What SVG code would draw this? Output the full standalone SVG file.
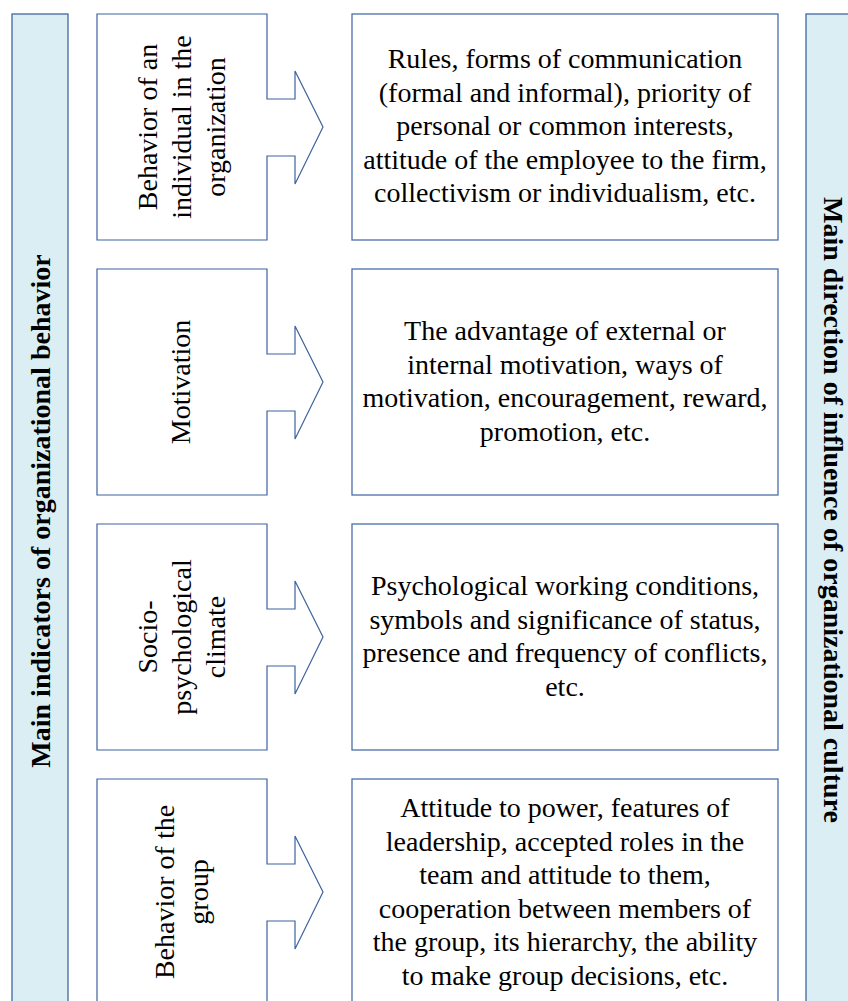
<svg xmlns="http://www.w3.org/2000/svg" width="848" height="1001" viewBox="0 0 848 1001">
<style>
.bar{fill:#DAEEF3;stroke:#41689E;stroke-width:1.3}
.box{fill:#FFFFFF;stroke:#4A6FA8;stroke-width:1.3}
.call{fill:#FFFFFF;stroke:#3E62A0;stroke-width:1.2;stroke-linejoin:miter}
.t{font-family:"Liberation Serif","Times New Roman",serif;font-size:28px;fill:#000;text-anchor:middle}
.b{font-family:"Liberation Serif","Times New Roman",serif;font-size:28px;font-weight:bold;fill:#000;text-anchor:middle}
</style>
<rect width="848" height="1001" fill="#FFFFFF"/>
<g id="left-bar">
<rect class="bar" x="12" y="14" width="56" height="1000"/>
<text class="b" transform="translate(40,511) rotate(-90)" x="0" y="10">Main indicators of organizational behavior</text>
</g>
<g id="right-bar">
<rect class="bar" x="806" y="14" width="56" height="1000"/>
<text class="b" transform="translate(834,510) rotate(90)" x="0" y="10">Main direction of influence of organizational culture</text>
</g>
<g id="connectors"></g>
<g id="ind1">
<path class="call" d="M97,14 H267 V99 H295 V71 L323,127 L295,184 V156 H267 V240 H97 Z"/>
<text class="t" transform="translate(182,127) rotate(-90)"><tspan x="0" y="-25">Behavior of an</tspan><tspan x="0" y="9">individual in the</tspan><tspan x="0" y="43">organization</tspan></text>
</g>
<g id="dir1">
<rect class="box" x="352" y="14" width="426" height="226"/>
<text class="t"><tspan x="565" y="68">Rules, forms of communication</tspan><tspan x="565" y="101.5">(formal and informal), priority of</tspan><tspan x="565" y="135">personal or common interests,</tspan><tspan x="565" y="168.5">attitude of the employee to the firm,</tspan><tspan x="565" y="202">collectivism or individualism, etc.</tspan></text>
</g>
<g id="ind2">
<path class="call" d="M97,269 H267 V354 H295 V326 L323,382 L295,439 V411 H267 V495 H97 Z"/>
<text class="t" transform="translate(182,382) rotate(-90)" x="0" y="8">Motivation</text>
</g>
<g id="dir2">
<rect class="box" x="352" y="269" width="426" height="226"/>
<text class="t"><tspan x="565" y="340">The advantage of external or</tspan><tspan x="565" y="373.5">internal motivation, ways of</tspan><tspan x="565" y="407">motivation, encouragement, reward,</tspan><tspan x="565" y="440.5">promotion, etc.</tspan></text>
</g>
<g id="ind3">
<path class="call" d="M97,524 H267 V609 H295 V581 L323,637 L295,694 V666 H267 V750 H97 Z"/>
<text class="t" transform="translate(182,637) rotate(-90)"><tspan x="0" y="-25">Socio-</tspan><tspan x="0" y="9">psychological</tspan><tspan x="0" y="43">climate</tspan></text>
</g>
<g id="dir3">
<rect class="box" x="352" y="524" width="426" height="226"/>
<text class="t"><tspan x="565" y="595">Psychological working conditions,</tspan><tspan x="565" y="628.5">symbols and significance of status,</tspan><tspan x="565" y="662">presence and frequency of conflicts,</tspan><tspan x="565" y="695.5">etc.</tspan></text>
</g>
<g id="ind4">
<path class="call" d="M97,779 H267 V864 H295 V836 L323,892 L295,949 V921 H267 V1005 H97 Z"/>
<text class="t" transform="translate(182,892) rotate(-90)"><tspan x="0" y="-8">Behavior of the</tspan><tspan x="0" y="26">group</tspan></text>
</g>
<g id="dir4">
<rect class="box" x="352" y="779" width="426" height="226"/>
<text class="t"><tspan x="565" y="817">Attitude to power, features of</tspan><tspan x="565" y="850.5">leadership, accepted roles in the</tspan><tspan x="565" y="884">team and attitude to them,</tspan><tspan x="565" y="917.5">cooperation between members of</tspan><tspan x="565" y="951">the group, its hierarchy, the ability</tspan><tspan x="565" y="984.5">to make group decisions, etc.</tspan></text>
</g>
</svg>
